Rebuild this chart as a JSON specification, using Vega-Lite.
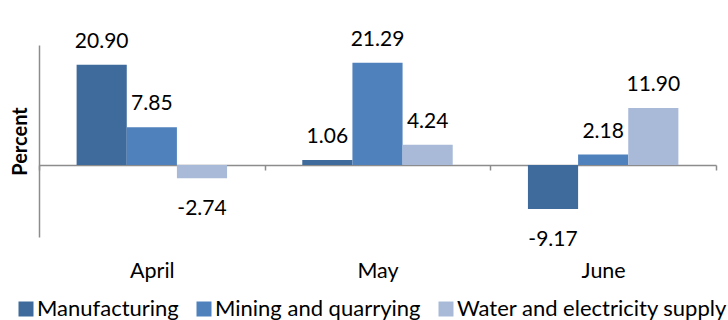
{
  "$schema": "https://vega.github.io/schema/vega-lite/v6.json",
  "width": 677,
  "height": 192,
  "autosize": {"type": "none"},
  "padding": {"left": 39, "top": 45, "right": 12, "bottom": 83},
  "background": "white",
  "config": {
    "view": {"stroke": null},
    "font": "Lato",
    "text": {"font": "Lato"},
    "locale": {
      "number": {"decimal": ".", "thousands": ",", "grouping": [3], "currency": ["$", ""], "minus": "-"}
    }
  },
  "data": {
    "values": [
      {"month": "April", "sector": "Manufacturing", "value": 20.90},
      {"month": "April", "sector": "Mining and quarrying", "value": 7.85},
      {"month": "April", "sector": "Water and electricity supply", "value": -2.74},
      {"month": "May", "sector": "Manufacturing", "value": 1.06},
      {"month": "May", "sector": "Mining and quarrying", "value": 21.29},
      {"month": "May", "sector": "Water and electricity supply", "value": 4.24},
      {"month": "June", "sector": "Manufacturing", "value": -9.17},
      {"month": "June", "sector": "Mining and quarrying", "value": 2.18},
      {"month": "June", "sector": "Water and electricity supply", "value": 11.90}
    ]
  },
  "encoding": {
    "x": {
      "field": "month",
      "type": "nominal",
      "sort": ["April", "May", "June"],
      "scale": {"paddingInner": 0, "paddingOuter": 0},
      "axis": {
        "title": null,
        "orient": "bottom",
        "offset": -72,
        "domainColor": "#8c8c8c",
        "domainWidth": 1.5,
        "tickColor": "#8c8c8c",
        "tickWidth": 1.5,
        "tickSize": 5,
        "tickBand": "extent",
        "labelAngle": 0,
        "labelFont": "Lato",
        "labelFontSize": 21.5,
        "labelColor": "#000000",
        "labelPadding": 90
      }
    },
    "xOffset": {
      "field": "sector",
      "type": "nominal",
      "sort": ["Manufacturing", "Mining and quarrying", "Water and electricity supply"],
      "scale": {"paddingInner": 0, "paddingOuter": 0.75}
    },
    "y": {
      "field": "value",
      "type": "quantitative",
      "scale": {"domain": [-15, 25], "nice": false, "zero": true},
      "axis": {
        "title": "Percent",
        "titleFont": "Lato",
        "titleFontSize": 20,
        "titleFontWeight": "bold",
        "titleColor": "#000000",
        "titlePadding": 9,
        "labels": false,
        "ticks": false,
        "grid": false,
        "domainColor": "#8c8c8c",
        "domainWidth": 1.5
      }
    }
  },
  "layer": [
    {
      "mark": {"type": "bar"},
      "encoding": {
        "color": {
          "field": "sector",
          "type": "nominal",
          "sort": ["Manufacturing", "Mining and quarrying", "Water and electricity supply"],
          "scale": {
            "domain": ["Manufacturing", "Mining and quarrying", "Water and electricity supply"],
            "range": ["#3f6a9c", "#4f81bd", "#a9bad8"]
          },
          "legend": {
            "orient": "none",
            "legendX": -24,
            "legendY": 253,
            "direction": "horizontal",
            "title": null,
            "symbolType": "square",
            "symbolSize": 225,
            "symbolStrokeWidth": 0,
            "labelFont": "Lato",
            "labelFontSize": 22,
            "labelColor": "#000000",
            "labelLimit": 0,
            "labelOffset": 0,
            "columnPadding": 14
          }
        }
      }
    },
    {
      "transform": [{"filter": "datum.value >= 0"}],
      "mark": {"type": "text", "baseline": "alphabetic", "dy": -17, "fontSize": 21, "color": "#000000"},
      "encoding": {"text": {"field": "value", "type": "quantitative", "format": ".2f"}}
    },
    {
      "transform": [{"filter": "datum.value < 0"}],
      "mark": {"type": "text", "baseline": "alphabetic", "dy": 37, "fontSize": 21, "color": "#000000"},
      "encoding": {"text": {"field": "value", "type": "quantitative", "format": ".2f"}}
    }
  ]
}
